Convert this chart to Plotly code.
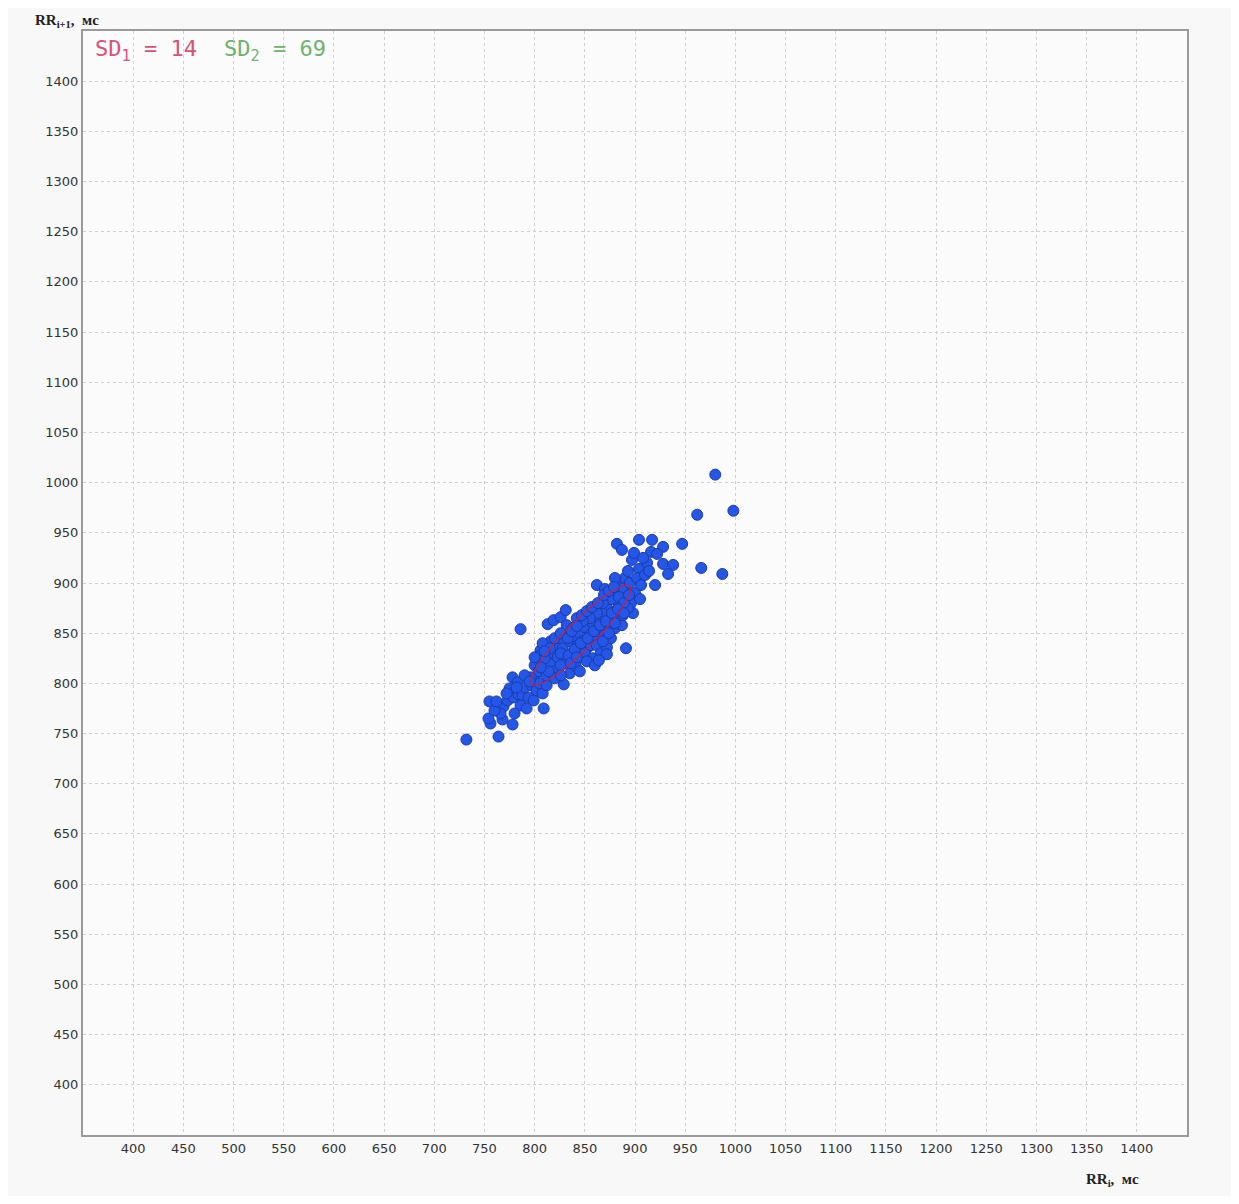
import numpy as np
import plotly.graph_objects as go

# RR intervals (ms): x = RR_i, y = RR_{i+1}
rr_i = [
    732, 764, 756, 754, 768, 778, 755, 769, 773, 779, 784, 766, 778, 783, 788, 794, 799, 809, 790, 797,
    802, 808, 760, 775, 786, 800, 805, 812, 792, 780,
    786, 813, 819, 826, 831, 806, 804, 800, 804, 829, 815, 818, 822, 810, 825, 828, 820, 832, 835, 812,
    816, 808, 823, 830, 835, 838, 826, 841, 832, 838,
    840, 843, 845, 848, 850, 852, 855, 858, 860, 846, 850, 856, 862, 865, 868, 870, 862, 858, 866, 872,
    875, 878, 880, 872, 868, 862, 855, 848, 842, 876, 880, 884, 872, 887, 891, 845, 852, 860, 864,
    862, 870, 882, 885, 888, 890, 893, 897, 904, 892, 896, 900, 905, 898, 884, 888, 895, 902, 906, 910,
    882, 887, 904, 917, 928, 916, 922, 928, 938, 933, 920, 912, 899, 908, 914, 876, 868, 880, 893,
    947, 962, 980, 998, 966, 987,
    815, 820, 826, 833, 837, 842, 847, 852, 857, 863, 869, 874, 879, 884, 889, 894, 826, 834, 840, 846,
    853, 859, 865, 871, 877, 883, 889, 868, 874, 880, 836, 842, 820, 814, 826, 810, 800, 796, 806,
    772, 782, 790, 762, 795,
]
rr_i1 = [
    744, 747, 760, 765, 764, 759, 782, 777, 783, 786, 789, 770, 806, 801, 788, 786, 783, 775, 796, 798,
    793, 790, 773, 795, 778, 805, 800, 798, 775, 770,
    854, 859, 863, 866, 873, 833, 827, 818, 812, 799, 820, 830, 838, 825, 845, 835, 812, 820, 810, 808,
    842, 840, 826, 850, 842, 830, 818, 817, 858, 855,
    845, 838, 850, 842, 856, 835, 848, 860, 842, 826, 830, 838, 852, 865, 855, 848, 838, 825, 830, 836,
    858, 866, 872, 875, 870, 870, 865, 862, 865, 845, 855, 862, 829, 858, 835, 812, 822, 818, 823,
    898, 894, 890, 900, 895, 905, 912, 923, 914, 885, 880, 890, 884, 870, 878, 868, 900, 905, 898, 908,
    939, 933, 943, 943, 936, 931, 929, 919, 918, 909, 898, 920, 930, 925, 912, 884, 880, 905, 875,
    939, 968, 1008, 972, 915, 909,
    835, 845, 850, 845, 852, 857, 868, 872, 876, 880, 888, 892, 896, 886, 880, 888, 830, 828, 834, 840,
    845, 852, 858, 862, 870, 874, 870, 842, 850, 860, 820, 826, 805, 812, 808, 832, 826, 806, 816,
    790, 796, 808, 782, 802,
]

sd1 = 14
sd2 = 69
ellipse_center = [846, 848]

tick_vals = list(range(400, 1401, 50))

W, H = 1223, 1188
L, R, T, B = 75, 44, 23, 61
PW, PH = W - L - R, H - T - B


def px(x):
    return (x - L) / PW


def py(y):
    return (H - B - y) / PH


fig = go.Figure()

fig.add_trace(go.Scatter(
    x=rr_i, y=rr_i1, mode="markers",
    marker=dict(size=11, color="#2456e8", line=dict(color="#1c3aa6", width=1)),
    showlegend=False, hoverinfo="x+y",
))

t = np.linspace(0, 2 * np.pi, 200)
ang = np.pi / 4
ex = ellipse_center[0] + sd2 * np.cos(t) * np.cos(ang) - sd1 * np.sin(t) * np.sin(ang)
ey = ellipse_center[1] + sd2 * np.cos(t) * np.sin(ang) + sd1 * np.sin(t) * np.cos(ang)
fig.add_trace(go.Scatter(
    x=ex, y=ey, mode="lines",
    line=dict(color="#c8204a", width=1.5), opacity=0.8,
    showlegend=False, hoverinfo="skip",
))

axis_common = dict(
    range=[350, 1450], tickvals=tick_vals, ticktext=[str(v) for v in tick_vals],
    showgrid=True, gridcolor="#cfcfcf", griddash="dot", gridwidth=1,
    zeroline=False, showline=True, linecolor="#9a9a9a", linewidth=2, mirror=True,
    ticks="", tickfont=dict(family="DejaVu Sans", size=13, color="#333333"),
)

fig.update_layout(
    width=W, height=H,
    margin=dict(l=L, r=R, t=T, b=B),
    paper_bgcolor="#f8f8f8", plot_bgcolor="#fbfbfb",
    xaxis=dict(**axis_common),
    yaxis=dict(**axis_common),
    annotations=[
        dict(x=px(85), y=py(42), xref="paper", yref="paper", xanchor="left", yanchor="middle",
             showarrow=False,
             text=f"SD<sub>1</sub> = {sd1}",
             font=dict(family="DejaVu Sans Mono", size=22, color="#d6527a")),
        dict(x=px(214), y=py(42), xref="paper", yref="paper", xanchor="left", yanchor="middle",
             showarrow=False,
             text=f"SD<sub>2</sub> = {sd2}",
             font=dict(family="DejaVu Sans Mono", size=22, color="#6cb46c")),
        dict(x=px(25), y=py(13), xref="paper", yref="paper", xanchor="left", yanchor="middle",
             showarrow=False,
             text="<b>RR<sub>i+1</sub>,  мс</b>",
             font=dict(family="Liberation Serif", size=15, color="#222222")),
        dict(x=px(1104), y=py(1172), xref="paper", yref="paper", xanchor="center", yanchor="middle",
             showarrow=False,
             text="<b>RR<sub>i</sub>,  мс</b>",
             font=dict(family="Liberation Serif", size=15, color="#222222")),
    ],
)

fig.write_html("out.html")
